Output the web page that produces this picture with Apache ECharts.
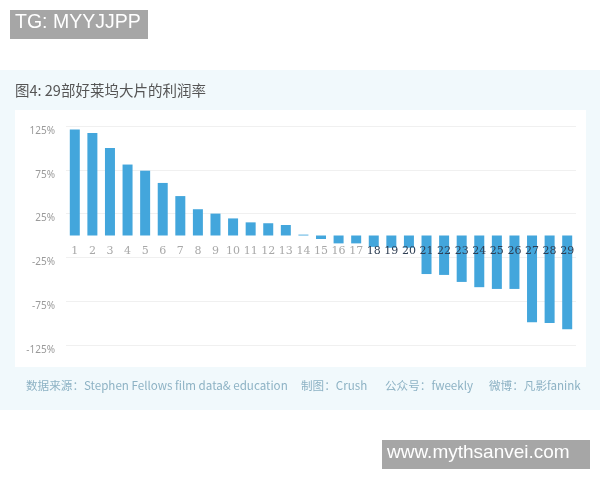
<!DOCTYPE html>
<html><head><meta charset="utf-8">
<script src="https://cdn.jsdelivr.net/npm/echarts@6/dist/echarts.min.js"></script>
<style>html,body{margin:0;padding:0;background:#fff}#c{width:600px;height:480px}</style>
</head><body><div id="c"></div>
<script>
const categories = ['1','2','3','4','5','6','7','8','9','10','11','12','13','14','15','16','17','18','19','20','21','22','23','24','25','26','27','28','29'];
const profitRates = [121,117,100,81,74,60,45,30,25,19.5,15,14,12,1,-4,-9,-9,-13,-14,-14,-44,-45,-53,-59,-61,-61,-99,-100,-107];
const yTicks = [-125,-75,-25,25,75,125];
const titleText = '图4: 29部好莱坞大片的利润率';
const footerParts = ['数据来源：Stephen Fellows film data& education','制图：Crush','公众号：fweekly','微博：凡影fanink'];

const chart = echarts.init(document.getElementById('c'));
const cjk = '"Noto Sans CJK SC", "Noto Sans", sans-serif';
const footerX = [26, 301, 385, 489];
chart.setOption({
  animation: false,
  backgroundColor: '#ffffff',
  grid: { left: 66, right: 24, top: 126, height: 219, containLabel: false },
  xAxis: {
    type: 'category',
    data: categories,
    offset: -109.5,
    axisLine: { show: false, onZero: false },
    axisTick: { show: false },
    axisLabel: {
      interval: 0, margin: 10, fontSize: 11,
      fontFamily: '"DejaVu Serif", serif',
      color: function (v, i) { return (+v) >= 18 ? '#2e3d52' : '#a8a8a8'; }
    },
    z: 10
  },
  yAxis: {
    type: 'value', min: -125, max: 125, interval: 50,
    axisLine: { show: false }, axisTick: { show: false },
    splitLine: { lineStyle: { color: '#f0f0f0', width: 1 } },
    axisLabel: {
      margin: 11, fontSize: 10, color: '#9a9a9a', verticalAlign: 'top',
      fontFamily: '"Noto Sans", sans-serif',
      formatter: function (v) { return v + '%'; }
    }
  },
  series: [{
    type: 'bar', data: profitRates, barWidth: 10,
    itemStyle: { color: '#43a6dc' }, z: 2
  }],
  graphic: [
    { type: 'rect', z: -10, silent: true, shape: { x: 0, y: 70, width: 600, height: 340 }, style: { fill: '#f1f9fc' } },
    { type: 'rect', z: -9, silent: true, shape: { x: 15, y: 110, width: 571, height: 257 }, style: { fill: '#ffffff' } },
    { type: 'text', left: 15, top: 83, style: { text: titleText, font: '14.5px ' + cjk, fill: '#555555' } },
    ...footerParts.map((t, i) => ({ type: 'text', left: footerX[i], top: 380, style: { text: t, font: '11.6px ' + cjk, fill: '#8db2c4' } })),
    { type: 'rect', shape: { x: 10, y: 10, width: 138, height: 29 }, style: { fill: '#a6a6a6' } },
    { type: 'text', left: 15, top: 13, style: { text: 'TG: MYYJJPP', font: '19.5px "Liberation Sans", Arial, sans-serif', fill: '#ffffff' } },
    { type: 'rect', shape: { x: 382, y: 440, width: 208, height: 29 }, style: { fill: '#a6a6a6' } },
    { type: 'text', left: 387, top: 443, style: { text: 'www.mythsanvei.com', font: '19px "Liberation Sans", Arial, sans-serif', fill: '#ffffff' } }
  ]
});
</script></body></html>
